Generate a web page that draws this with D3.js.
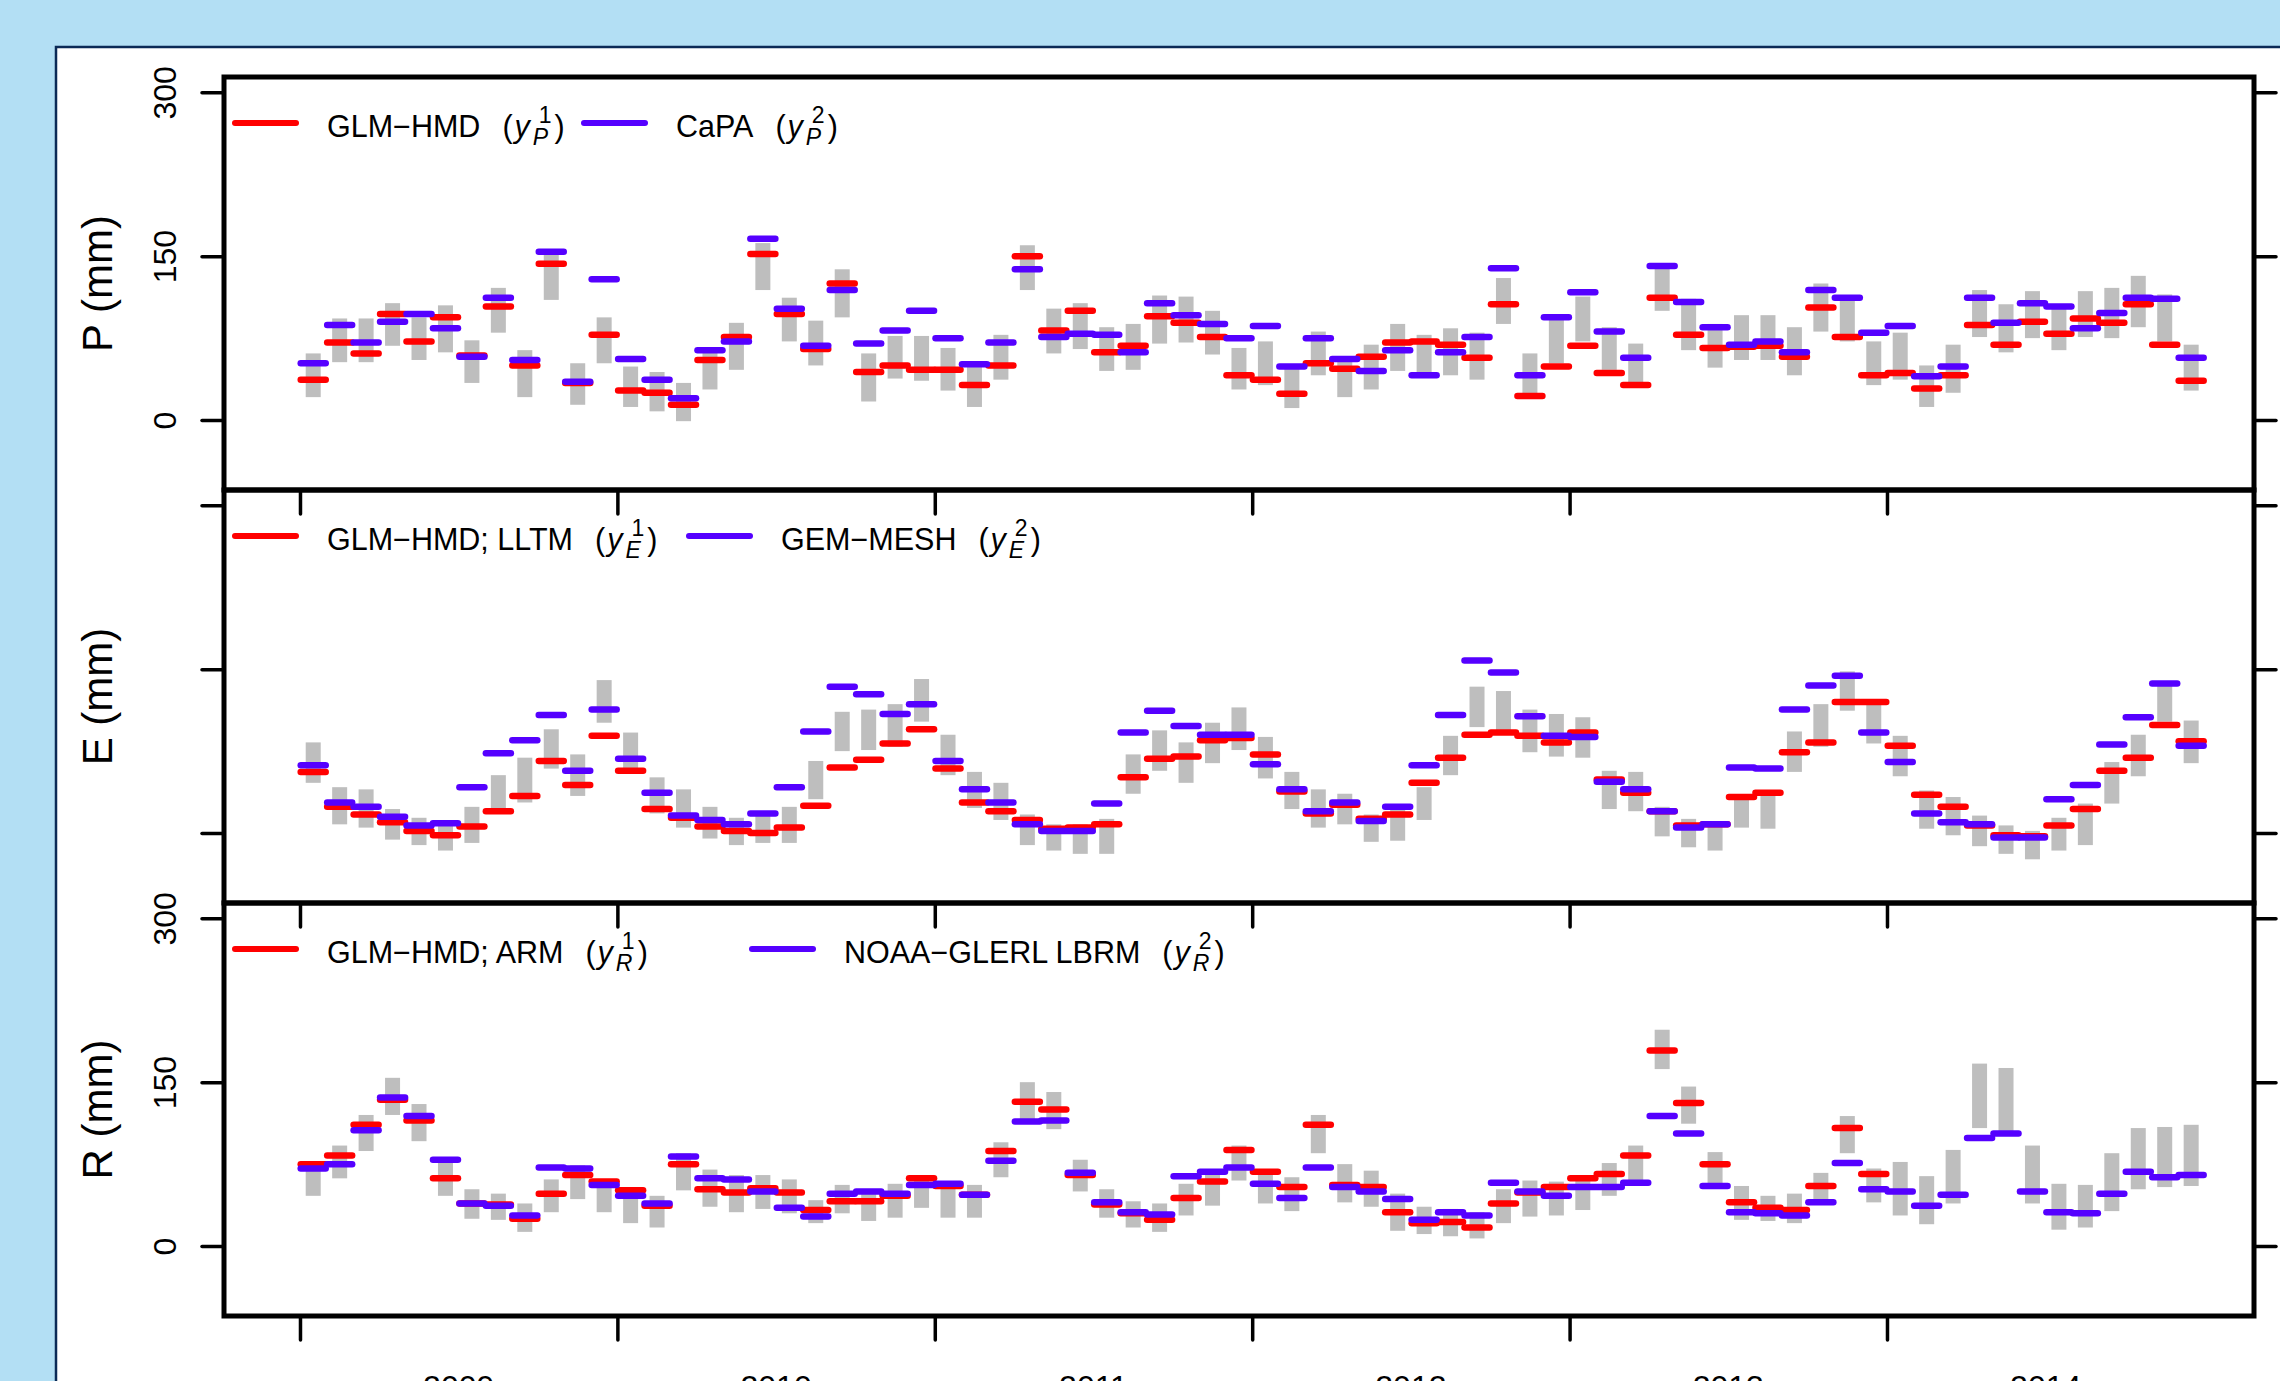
<!DOCTYPE html>
<html>
<head>
<meta charset="utf-8">
<script src="https://cdn.jsdelivr.net/npm/d3@7"></script>
<style>
  body { margin: 0; background: #b3dff4; }
  svg { display: block; }
  text { font-family: "Liberation Sans", Arial, Helvetica, sans-serif; fill: #000; }
</style>
</head>
<body>
<svg></svg>
<script>
 // monthly values, Jan 2009 - Dec 2014
 let startYear = 2009;
 let yearTicks = [2009, 2010, 2011, 2012, 2013, 2014];
 let yearLabels = ['2009', '2010', '2011', '2012', '2013', '2014'];
 let yTicks = [0, 150, 300];

 // P (mm)
 let pHigh = [61,93,93,107,94,105,73,121,64,152, 52,94,49,44,34,62,89,162,112,91, 138,61,77,77,66,49,78,160,102,107, 85,88,114,113,100,66,72,49,81,58, 69,88,78,84,80,130,61,97,113,85, 70,139,111,88,96,96,85,125,112,72, 80,50,69,119,106,118,102,118,121,132, 115,69];
 let pLow  = [21,53,53,68,55,62,34,80,21,110, 14,52,12,8,-1,28,46,119,72,50, 94,17,38,36,27,12,37,119,61,65, 45,46,70,71,60,28,32,11,41,21, 28,45,41,41,37,88,24,52,72,46, 34,100,64,48,55,55,41,81,72,32, 37,12,25,76,62,75,64,76,75,85, 72,27];
 let pRed  = [37,71,61,97,72,94,59,104,50,143, 34,78,27,25,14,55,76,152,97,65, 125,44,50,46,46,32,50,150,82,100, 62,68,95,89,76,41,37,24,52,47, 58,71,72,69,57,106,22,49,68,43, 32,112,78,66,67,68,58,103,76,41, 43,29,41,87,69,90,79,93,89,106, 69,36];
 let pBlue = [52,87,71,90,97,84,58,112,55,154, 35,129,56,37,20,64,72,166,102,68, 119,70,82,100,75,51,71,138,76,79, 78,62,107,96,88,75,86,49,75,56, 45,64,41,62,76,139,41,94,117,81, 57,141,108,85,69,72,62,119,112,80, 86,40,49,112,89,107,104,84,98,112, 111,57];

 // E (mm)
 let eHigh = [83,42,40,22,14,9,24,53,69,95, 72,140,92,51,40,24,14,17,24,66, 111,113,118,141,90,56,46,17,8,8, 13,72,94,83,101,115,88,56,40,36, 17,25,42,89,134,130,113,109,106,57, 56,24,13,8,31,37,93,118,148,120, 89,39,33,16,7,2,14,27,65,90, 137,103];
 let eLow  = [46,8,5,-6,-11,-16,-9,20,28,59, 34,101,59,18,5,-5,-11,-9,-9,31, 75,76,79,102,53,23,12,-11,-16,-19, -19,36,57,46,64,76,50,22,5,8, -8,-7,12,53,97,94,74,70,69,22, 20,-3,-13,-16,5,4,56,79,112,82, 52,4,-2,-12,-19,-24,-16,-11,27,52, 102,64];
 let eRed  = [56,24,17,10,2,-2,6,20,34,66, 44,89,57,22,14,6,2,0,5,25, 60,67,82,95,59,28,20,12,4,5, 8,51,68,70,85,87,72,38,18,26, 13,17,46,69,90,92,89,83,92,49, 37,20,7,8,33,37,74,83,120,120, 80,35,24,7,-2,-3,7,22,57,69, 99,84];
 let eBlue = [62,28,24,15,7,9,42,73,85,108, 57,113,68,37,16,12,8,18,42,93, 134,127,109,118,66,40,28,8,2,2, 27,92,112,98,90,90,63,40,20,28, 11,24,62,108,158,147,107,89,88,47, 40,20,5,8,60,59,113,135,144,92, 65,18,10,8,-4,-4,31,44,81,106, 137,80];

 // R (mm)
 let rHigh = [72,92,120,154,130,79,52,48,39,61, 74,57,53,46,85,70,65,65,61,42, 56,51,57,65,59,56,95,150,141,79, 52,41,39,57,66,92,69,63,120,75, 69,48,36,34,31,52,60,59,60,76, 92,198,146,86,55,46,48,67,119,71, 77,64,88,167,163,92,57,56,85,108, 109,111];
 let rLow  = [46,62,87,120,96,46,25,24,13,31, 43,31,21,17,51,36,31,34,30,21, 30,23,26,35,26,26,63,116,107,50, 26,17,13,28,37,60,39,32,85,40, 36,14,11,9,7,21,27,28,33,46, 60,162,112,57,24,23,21,40,85,40, 28,20,39,108,105,39,15,17,32,52, 54,55];
 let rRed  = [75,83,111,134,115,62,39,38,25,48, 65,59,51,37,75,52,49,53,49,33, 41,41,46,62,55,47,87,132,125,65, 38,30,24,44,59,88,68,54,111,56, 54,31,21,22,17,39,49,54,62,66, 83,179,131,75,40,35,33,55,108,66, null,null,null,null,null,null,null,null,null,null, null,null];
 let rBlue = [71,75,106,136,119,79,39,37,28,72, 71,56,46,39,82,62,61,50,35,27, 48,50,48,56,57,47,78,114,115,67, 40,31,29,64,68,72,57,44,72,54, 50,43,24,31,28,58,50,46,54,54, 58,119,103,55,31,30,28,40,76,52, 50,37,47,99,103,50,31,30,48,68, 63,65];

 let width = 2280;
 let height = 1381;
 let red = '#ff0000';
 let blue = '#5500ff';
 let gray = '#bebebe';

 let svg = d3.select('svg')
   .attr('width', width)
   .attr('height', height);

 let panels = [
   { top: 77, bottom: 490, high: pHigh, low: pLow, red: pRed, blue: pBlue, title: 'P (mm)', labels: true,
     legend: [{ color: red, sx: 232, base: 'GLM\u2212HMD', sub: 'P', sup: '1' },
              { color: blue, sx: 581, base: 'CaPA', sub: 'P', sup: '2' }] },
   { top: 490, bottom: 903, high: eHigh, low: eLow, red: eRed, blue: eBlue, title: 'E (mm)', labels: false,
     legend: [{ color: red, sx: 232, base: 'GLM\u2212HMD; LLTM', sub: 'E', sup: '1' },
              { color: blue, sx: 686, base: 'GEM\u2212MESH', sub: 'E', sup: '2' }] },
   { top: 903, bottom: 1316, high: rHigh, low: rLow, red: rRed, blue: rBlue, title: 'R (mm)', labels: true,
     legend: [{ color: red, sx: 232, base: 'GLM\u2212HMD; ARM', sub: 'R', sup: '1' },
              { color: blue, sx: 749, base: 'NOAA\u2212GLERL LBRM', sub: 'R', sup: '2' }] }
 ];

 let xScale = d3.scaleLinear()
   .domain([2008.7606, 2015.1563])
   .range([224, 2254]);

 let monthTime = (i) => startYear + (i + 0.5) / 12;

 let drawBackground = () => {
   svg.append('rect')
     .attr('width', width).attr('height', height)
     .attr('fill', '#b3dff4');
   svg.append('rect')
     .attr('x', 56).attr('y', 47)
     .attr('width', width - 56).attr('height', height - 47)
     .attr('fill', '#ffffff');
   svg.append('path')
     .attr('d', `M56,${height} L56,47 L${width},47`)
     .attr('fill', 'none')
     .attr('stroke', '#0b2a56')
     .attr('stroke-width', 2.5);
 }

 let drawLabel = (g, x, y, base, sub, sup) => {
   let fs = 30.5;
   let t1 = g.append('text').attr('x', x).attr('y', y).style('font-size', fs + 'px').text(base);
   let cx = x + t1.node().getComputedTextLength() + 22;
   let t2 = g.append('text').attr('x', cx).attr('y', y).style('font-size', fs + 'px').text('(');
   cx += t2.node().getComputedTextLength() + 2;
   let t3 = g.append('text').attr('x', cx).attr('y', y).style('font-size', fs + 'px')
     .style('font-style', 'italic').text('y');
   cx += t3.node().getComputedTextLength() + 3;
   let t4 = g.append('text').attr('x', cx + 6).attr('y', y - 14).style('font-size', '23px').text(sup);
   let t5 = g.append('text').attr('x', cx).attr('y', y + 8).style('font-size', '23px')
     .style('font-style', 'italic').text(sub);
   cx += Math.max(t4.node().getComputedTextLength() + 6, t5.node().getComputedTextLength()) + 3;
   g.append('text').attr('x', cx).attr('y', y).style('font-size', fs + 'px').text(')');
 }

 let drawPanel = (p) => {
   let yScale = d3.scaleLinear()
     .domain([-64, 314])
     .range([p.bottom, p.top]);

   let g = svg.append('g');

   // grey ranges
   g.selectAll('rect.range')
     .data(p.high)
     .enter()
     .append('rect')
     .attr('class', 'range')
     .attr('x', (d, i) => xScale(monthTime(i)) - 7.5)
     .attr('width', 15)
     .attr('y', (d) => yScale(d))
     .attr('height', (d, i) => yScale(p.low[i]) - yScale(d))
     .attr('fill', gray);

   let drawSeries = (values, color) => {
     g.selectAll(null)
       .data(values.map((v, i) => [i, v]).filter(item => item[1] !== null))
       .enter()
       .append('line')
       .attr('x1', (item) => xScale(monthTime(item[0])) - 12.5)
       .attr('x2', (item) => xScale(monthTime(item[0])) + 12.5)
       .attr('y1', (item) => yScale(item[1]))
       .attr('y2', (item) => yScale(item[1]))
       .attr('stroke', color)
       .attr('stroke-width', 6.5)
       .attr('stroke-linecap', 'round');
   }
   drawSeries(p.red, red);
   drawSeries(p.blue, blue);

   // axes
   let yAxis = d3.axisLeft(yScale).tickValues(yTicks).tickSize(22).tickSizeOuter(0);
   let yg = svg.append('g')
     .attr('transform', 'translate(224, 0)')
     .call(yAxis);
   yg.select('.domain').remove();
   yg.selectAll('line').attr('stroke-width', 3.5).attr('stroke-linecap', 'round');
   if (p.labels) {
     yg.selectAll('text')
       .attr('x', 0).attr('dy', 0)
       .attr('text-anchor', 'middle')
       .attr('transform', 'translate(-48, 0) rotate(-90)')
       .style('font-size', '32px')
       .style('font-family', '"Liberation Sans", Arial, sans-serif')
       .attr('fill', '#000');
   } else {
     yg.selectAll('text').remove();
   }

   let yAxisRight = d3.axisRight(yScale).tickValues(yTicks).tickSize(22).tickFormat('');
   let yr = svg.append('g')
     .attr('transform', 'translate(2254, 0)')
     .call(yAxisRight);
   yr.select('.domain').remove();
   yr.selectAll('line').attr('stroke-width', 3.5).attr('stroke-linecap', 'round');

   let xAxis = d3.axisBottom(xScale).tickValues(yearTicks).tickSize(24).tickFormat('');
   let xg = svg.append('g')
     .attr('transform', `translate(0, ${p.bottom})`)
     .call(xAxis);
   xg.select('.domain').remove();
   xg.selectAll('line').attr('stroke-width', 3.5).attr('stroke-linecap', 'round');

   svg.append('rect')
     .attr('x', 224).attr('y', p.top)
     .attr('width', 2254 - 224).attr('height', p.bottom - p.top)
     .attr('fill', 'none')
     .attr('stroke', '#000')
     .attr('stroke-width', 5);

   svg.append('text')
     .attr('transform', `translate(112, ${(p.top + p.bottom) / 2}) rotate(-90)`)
     .attr('text-anchor', 'middle')
     .style('font-size', '42px')
     .text(p.title);

   // legend
   let lg = svg.append('g');
   p.legend.forEach(item => {
     lg.append('line')
       .attr('x1', item.sx + 3).attr('x2', item.sx + 64)
       .attr('y1', p.top + 46).attr('y2', p.top + 46)
       .attr('stroke', item.color)
       .attr('stroke-width', 6)
       .attr('stroke-linecap', 'round');
     drawLabel(lg, item.sx + 95, p.top + 60, item.base, item.sub, item.sup);
   });
 }

 let drawYears = () => {
   svg.selectAll('text.year')
     .data(yearLabels)
     .enter()
     .append('text')
     .attr('class', 'year')
     .attr('x', (d, i) => xScale(yearTicks[i] + 0.5))
     .attr('y', 1398)
     .attr('text-anchor', 'middle')
     .style('font-size', '32px')
     .text(d => d);
 }

 drawBackground();
 panels.forEach(drawPanel);
 drawYears();
</script>
</body>
</html>
